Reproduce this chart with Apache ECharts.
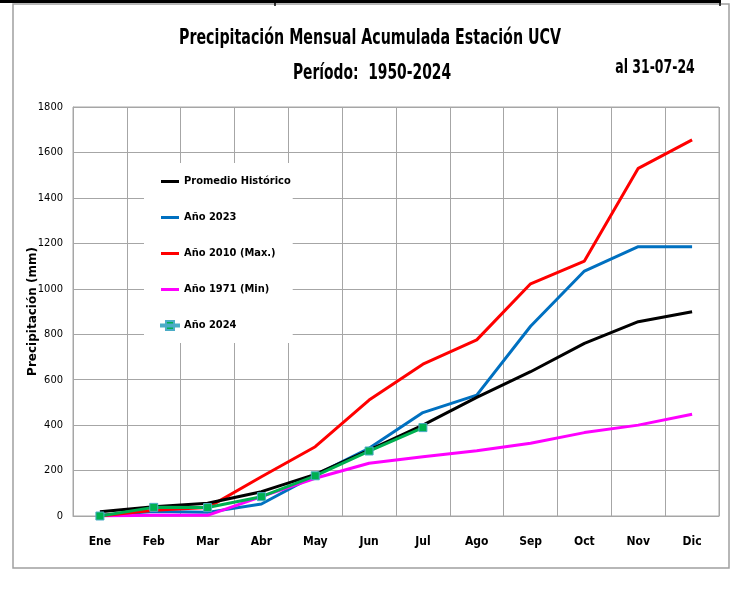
<!DOCTYPE html>
<html>
<head>
<meta charset="utf-8">
<script src="https://cdn.jsdelivr.net/npm/echarts@6/dist/echarts.min.js"></script>
<style>
  html, body { margin: 0; padding: 0; background: #fff; }
  #chart { width: 735px; height: 610px; }
</style>
</head>
<body>
<div id="chart"></div>
<script>
// 数据 - 月累计降水 (mm)
const months = ['Ene', 'Feb', 'Mar', 'Abr', 'May', 'Jun', 'Jul', 'Ago', 'Sep', 'Oct', 'Nov', 'Dic'];
const promedioHistorico = [19, 41, 56, 107, 183, 290, 400, 522, 635, 760, 855, 899];
const anio2023 = [3, 20, 16, 53, 180, 298, 455, 532, 835, 1078, 1185, 1185];
const anio2010 = [0, 25, 37, 173, 305, 510, 668, 775, 1022, 1122, 1530, 1655];
const anio1971 = [0, 3, 3, 85, 166, 232, 261, 287, 320, 367, 400, 448];
const anio2024 = [0, 38, 37, 85, 177, 286, 389];

const NARROW = '"DejaVu Sans Condensed", "Liberation Sans Narrow", sans-serif';
const LINE_ICON = 'path://M0,0H18V3H0Z';
const MARK_ICON = 'path://M0,3.5H18V5.5H0Z M5,0H13V9H5Z';

const chart = echarts.init(document.getElementById('chart'), null, { renderer: 'canvas' });

function lineSeries(name, data, color, z) {
    return {
        name: name,
        type: 'line',
        data: data,
        symbol: 'none',
        z: z,
        lineStyle: { color: color, width: 3 },
        itemStyle: { color: color }
    };
}

const option = {
    animation: false,
    backgroundColor: '#fff',
    grid: {
        left: 73, top: 107, width: 646, height: 409,
        show: true, borderColor: '#a6a6a6', borderWidth: 1
    },
    legend: {
        orient: 'vertical',
        left: 144, top: 163,
        padding: [13, 2, 12, 16],
        backgroundColor: '#fff',
        itemWidth: 18, itemHeight: 12, itemGap: 25,
        symbolKeepAspect: true,
        textStyle: { fontFamily: NARROW, fontWeight: 'bold', fontSize: 11, color: '#000' },
        data: [
            { name: 'Promedio Histórico', icon: LINE_ICON },
            { name: 'Año 2023', icon: LINE_ICON },
            { name: 'Año 2010 (Max.)', icon: LINE_ICON },
            { name: 'Año 1971 (Min)', icon: LINE_ICON },
            { name: 'Año 2024', icon: MARK_ICON }
        ]
    },
    xAxis: {
        type: 'category',
        data: months,
        boundaryGap: true,
        axisLine: { show: true, lineStyle: { color: '#a6a6a6' } },
        axisTick: { show: false },
        splitLine: { show: true, lineStyle: { color: '#a6a6a6', width: 1 } },
        axisLabel: { fontFamily: NARROW, fontWeight: 'bold', fontSize: 12, color: '#000', margin: 20 }
    },
    yAxis: {
        type: 'value',
        min: 0, max: 1800, interval: 200,
        name: 'Precipitación (mm)',
        nameLocation: 'middle',
        nameGap: 34,
        nameMoveOverlap: false,
        nameTextStyle: { fontFamily: '"DejaVu Sans", sans-serif', fontWeight: 'bold', fontSize: 12, color: '#000' },
        axisLine: { show: true, lineStyle: { color: '#a6a6a6' } },
        axisTick: { show: false },
        splitLine: { show: true, lineStyle: { color: '#a6a6a6', width: 1 } },
        axisLabel: {
            fontFamily: NARROW, fontSize: 11, color: '#000', margin: 10,
            formatter: function (v) { return String(v); }
        }
    },
    series: [
        lineSeries('Año 2023', anio2023, '#0070c0', 3),
        lineSeries('Año 2010 (Max.)', anio2010, '#ff0000', 4),
        lineSeries('Año 1971 (Min)', anio1971, '#ff00ff', 3),
        lineSeries('Promedio Histórico', promedioHistorico, '#000000', 5),
        {
            name: 'Año 2024',
            type: 'line',
            data: anio2024,
            symbol: 'rect',
            symbolSize: 8,
            z: 6,
            lineStyle: { color: '#00b050', width: 3 },
            itemStyle: { color: '#00b050', borderColor: '#4bacc6', borderWidth: 1 }
        }
    ],
    graphic: [
        // 外框
        { type: 'rect', shape: { x: 13, y: 4, width: 716, height: 564 }, style: { fill: null, stroke: '#a0a0a0', lineWidth: 1.5 }, z: -1 },
        { type: 'line', shape: { x1: 0, y1: 1.5, x2: 721, y2: 1.5 }, style: { stroke: '#000', lineWidth: 3 } },
        { type: 'line', shape: { x1: 275, y1: 0, x2: 275, y2: 6 }, style: { stroke: '#000', lineWidth: 1.5 } },
        { type: 'line', shape: { x1: 720, y1: 0, x2: 720, y2: 6 }, style: { stroke: '#000', lineWidth: 1.5 } },
        // 标题 (横向压缩模拟窄字体)
        {
            type: 'text', x: 370, y: 38, scaleX: 0.72,
            style: { text: 'Precipitación Mensual Acumulada Estación UCV', font: 'bold 22px ' + NARROW, fill: '#000', align: 'center', verticalAlign: 'middle' }
        },
        {
            type: 'text', x: 372, y: 73, scaleX: 0.70,
            style: { text: 'Período:  1950-2024', font: 'bold 22px ' + NARROW, fill: '#000', align: 'center', verticalAlign: 'middle' }
        },
        {
            type: 'text', x: 655, y: 68, scaleX: 0.73,
            style: { text: 'al 31-07-24', font: 'bold 19px ' + NARROW, fill: '#000', align: 'center', verticalAlign: 'middle' }
        }
    ]
};

chart.setOption(option);
</script>
</body>
</html>
